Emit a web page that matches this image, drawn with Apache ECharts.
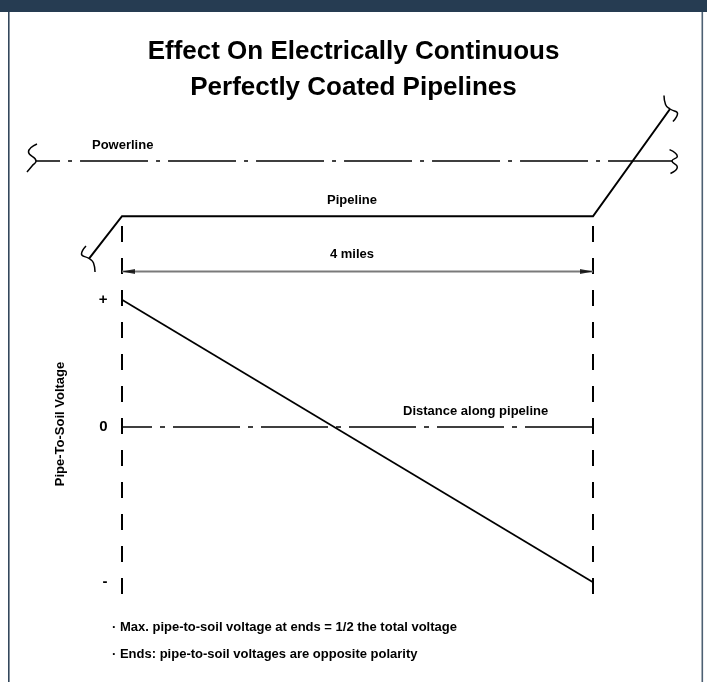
<!DOCTYPE html>
<html>
<head>
<meta charset="utf-8">
<script src="https://cdn.jsdelivr.net/npm/echarts@6/dist/echarts.min.js"></script>
<style>
  html, body { margin: 0; padding: 0; background: #fff; }
  #chart { width: 707px; height: 682px; }
</style>
</head>
<body>
<div id="chart"></div>
<script>
// pipe-to-soil voltage along the pipeline (x in miles, y in units of end voltage)
const pipelineEnds = [0, 4];
const voltageProfile = [[0, 1], [4, -1.22]];
const zeroLine = [[0, 0], [4, 0]];
const voltageTicks = [1, 0, -1.22];
const voltageTickLabels = ['+', '0', '-'];
const voltageRange = [-1.32, 1.58];

// schematic rows above the plot: 0 = distance arrow, 1 = pipeline, 2 = powerline
const distanceArrow = [[0, 0], [4, 0]];
const pipelineRoute = [[-0.28, 0.235], [0, 1], [4, 1], [4.654, 2.941]];
const pipeBreakLeft = [[-0.306, 0.462], [-0.344, 0.317], [-0.28, 0.235], [-0.242, 0.154], [-0.229, -0.009]];
const pipeBreakRight = [[4.603, 3.186], [4.616, 3.023], [4.654, 2.941], [4.718, 2.86], [4.679, 2.715]];
const powerlineRoute = [[-0.73, 2], [4.671, 2]];
const powerBreakLeft = [[-0.722, 2.308], [-0.794, 2.163], [-0.73, 2], [-0.764, 1.91], [-0.807, 1.801]];
const powerBreakRight = [[4.65, 2.205], [4.716, 2.081], [4.671, 2], [4.716, 1.891], [4.658, 1.774]];

// horizontal extent of the drawing, in miles
const mileRange = [-1, 4.9];
const schematicRange = [-0.5, 3.5];

const titleText = 'Effect On Electrically Continuous\nPerfectly Coated Pipelines';
const notes = [
  '\u00b7 Max. pipe-to-soil voltage at ends = 1/2 the total voltage',
  '\u00b7 Ends: pipe-to-soil voltages are opposite polarity'
];

const FONT = '"Liberation Sans", Arial, Helvetica, sans-serif';
const chart = echarts.init(document.getElementById('chart'), null, { renderer: 'canvas' });

function lineSeries(data, grid, style, extra) {
  return Object.assign({
    type: 'line',
    xAxisIndex: grid,
    yAxisIndex: grid,
    data: data,
    symbol: 'none',
    clip: false,
    silent: true,
    animation: false,
    lineStyle: Object.assign({ color: '#000', width: 1.6 }, style)
  }, extra || {});
}

function boldText(text, x, y, size, align, extra) {
  return Object.assign({
    type: 'text',
    x: x,
    y: y,
    style: {
      text: text,
      fill: '#000',
      font: 'bold ' + size + 'px ' + FONT,
      textAlign: align || 'left',
      textVerticalAlign: 'middle'
    }
  }, extra || {});
}

const series = [];

// end-of-pipeline dashed verticals
pipelineEnds.forEach(x => {
  series.push(lineSeries([[x, voltageRange[1]], [x, voltageRange[0]]], 0,
    { width: 2, type: [16, 16] }));
});

// zero reference line (dash-dot)
series.push(lineSeries(zeroLine, 0, { width: 1.5, type: [67, 8, 5, 8], dashOffset: 37 }));
// voltage profile
series.push(lineSeries(voltageProfile, 0, { width: 1.7 }));

// voltage tick labels (+, 0, -) on the voltage scale
series.push({
  type: 'scatter',
  xAxisIndex: 0,
  yAxisIndex: 0,
  symbol: 'circle',
  symbolSize: 1,
  itemStyle: { color: '#000' },
  silent: true,
  animation: false,
  clip: false,
  data: voltageTicks.map((v, i) => ({ value: [0, v], name: voltageTickLabels[i] })),
  label: {
    show: true,
    position: 'left',
    distance: 14,
    formatter: p => p.name,
    color: '#000',
    opacity: 1,
    fontFamily: FONT,
    fontSize: 15,
    fontWeight: 'bold'
  }
});

// schematic: powerline, pipeline and break marks
series.push(lineSeries(powerlineRoute, 1, { width: 1.5, type: [68, 8, 4, 8], dashOffset: 44 }));
series.push(lineSeries(pipelineRoute, 1, { width: 2, join: 'miter' }));
[pipeBreakLeft, pipeBreakRight, powerBreakLeft, powerBreakRight].forEach(pts => {
  series.push(lineSeries(pts, 1, { width: 1.5 }, { smooth: 0.5 }));
});

// distance arrow
series.push(lineSeries(distanceArrow, 1, { color: '#7a7a7a', width: 2 }));
series.push({
  type: 'scatter',
  xAxisIndex: 1,
  yAxisIndex: 1,
  z: 6,
  clip: false,
  silent: true,
  animation: false,
  symbol: 'triangle',
  symbolSize: [5, 13],
  itemStyle: { color: '#000' },
  data: distanceArrow.map((p, i) => ({
    value: p,
    symbolRotate: i === 0 ? 90 : -90,
    symbolOffset: i === 0 ? [6.5, 0] : [-6.5, 0]
  }))
});

// 117.75 px per mile, 0 mi at x=122
const PX_MILE = 117.75;
const gridLeft = 122 + mileRange[0] * PX_MILE;
const gridWidth = (mileRange[1] - mileRange[0]) * PX_MILE;
// schematic rows: 55.25 px per row, row 0 at y=271.5
const ROW = 55.25;

const option = {
  backgroundColor: '#fff',
  animation: false,
  title: {
    text: titleText,
    left: 'center',
    top: 29,
    textStyle: { fontFamily: FONT, fontSize: 26, fontWeight: 'bold', color: '#000', lineHeight: 36 }
  },
  grid: [
    { left: gridLeft, width: gridWidth, top: 226, height: 369 },
    { left: gridLeft, width: gridWidth, top: 271.5 - schematicRange[1] * ROW,
      height: (schematicRange[1] - schematicRange[0]) * ROW }
  ],
  xAxis: [
    { gridIndex: 0, type: 'value', min: mileRange[0], max: mileRange[1], show: false },
    { gridIndex: 1, type: 'value', min: mileRange[0], max: mileRange[1], show: false }
  ],
  yAxis: [
    { gridIndex: 0, type: 'value', min: voltageRange[0], max: voltageRange[1], show: false },
    { gridIndex: 1, type: 'value', min: schematicRange[0], max: schematicRange[1], show: false }
  ],
  graphic: [
    { type: 'rect', shape: { x: 0, y: 0, width: 707, height: 12 }, style: { fill: '#263c52' } },
    { type: 'rect', shape: { x: 8, y: 12, width: 1.6, height: 670 }, style: { fill: '#33475c' } },
    { type: 'rect', shape: { x: 701.5, y: 12, width: 1.6, height: 670 }, style: { fill: '#4d6073' } },
    boldText('Powerline', 92, 145, 13, 'left'),
    boldText('Pipeline', 352, 200, 13, 'center'),
    boldText('4 miles', 352, 254, 13, 'center'),
    boldText('Distance along pipeline', 403, 411, 13, 'left'),
    boldText('Pipe-To-Soil Voltage', 60, 424, 13, 'center', { rotation: Math.PI / 2 }),
    boldText(notes[0], 112, 627, 13, 'left'),
    boldText(notes[1], 112, 654, 13, 'left')
  ],
  series: series
};

chart.setOption(option);
</script>
</body>
</html>
